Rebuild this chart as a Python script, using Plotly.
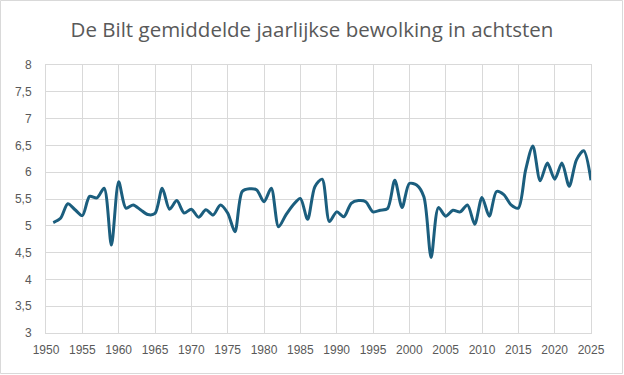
import plotly.graph_objects as go

years = list(range(1951, 2026))
cloud = [5.06, 5.14, 5.41, 5.30, 5.19, 5.55, 5.52, 5.70, 4.64, 5.82,
         5.33, 5.39, 5.30, 5.21, 5.23, 5.70, 5.31, 5.47, 5.24, 5.31,
         5.16, 5.30, 5.20, 5.39, 5.24, 4.89, 5.64, 5.69, 5.67, 5.45,
         5.70, 4.98, 5.20, 5.39, 5.51, 5.12, 5.73, 5.87, 5.08, 5.26,
         5.17, 5.42, 5.47, 5.45, 5.26, 5.29, 5.32, 5.85, 5.34, 5.79,
         5.76, 5.54, 4.41, 5.34, 5.18, 5.29, 5.26, 5.39, 5.03, 5.53,
         5.18, 5.64, 5.58, 5.39, 5.33, 6.04, 6.49, 5.84, 6.17, 5.87,
         6.17, 5.74, 6.23, 6.40, 5.85]
x_ticks = list(range(1950, 2026, 5))
y_ticks = [3, 3.5, 4, 4.5, 5, 5.5, 6, 6.5, 7, 7.5, 8]
y_labels = [str(v).replace(".", ",") for v in y_ticks]
title = "De Bilt gemiddelde jaarlijkse bewolking in achtsten"

W, H = 624, 375
L, R, T, B = 46, 33, 65, 42
pw, ph = W - L - R, H - T - B

fig = go.Figure()
fig.add_trace(go.Scatter(x=years, y=cloud, mode="lines",
                         line=dict(color="#1b5e7e", width=3, shape="spline", smoothing=0.8),
                         hoverinfo="x+y"))

grid = "#d9d9d9"
fig.update_layout(
    width=W, height=H,
    margin=dict(l=L, r=R, t=T, b=B),
    paper_bgcolor="white", plot_bgcolor="white",
    font=dict(family="Liberation Sans, Arial, sans-serif", color="#595959", size=12),
    title=dict(text=title, x=0.5, xanchor="center", y=1 - 30 / H, yanchor="middle",
               font=dict(size=20.5, color="#595959", family="Open Sans, Liberation Sans, sans-serif")),
    showlegend=False,
    xaxis=dict(range=[1950, 2025], tickvals=x_ticks, ticktext=[str(t) for t in x_ticks],
               showgrid=True, gridcolor=grid, gridwidth=1, zeroline=False,
               showline=True, linecolor=grid, mirror=True, ticks="", tickfont=dict(size=12),
               ticklabelstandoff=6),
    yaxis=dict(range=[3, 8], tickvals=y_ticks, ticktext=y_labels,
               showgrid=True, gridcolor=grid, gridwidth=1, zeroline=False,
               showline=True, linecolor=grid, mirror=True, ticks="", tickfont=dict(size=12),
               ticklabelstandoff=11),
)
fig.add_shape(type="rect", xref="paper", yref="paper",
              x0=-(L - 0.5) / pw, x1=1 + (R - 1.5) / pw,
              y0=-(B - 1.5) / ph, y1=1 + (T - 0.5) / ph,
              line=dict(color="#d9d9d9", width=1), layer="below")
fig.write_html("out.html", config={"displayModeBar": False},
               post_script="document.body.style.margin='0';")
